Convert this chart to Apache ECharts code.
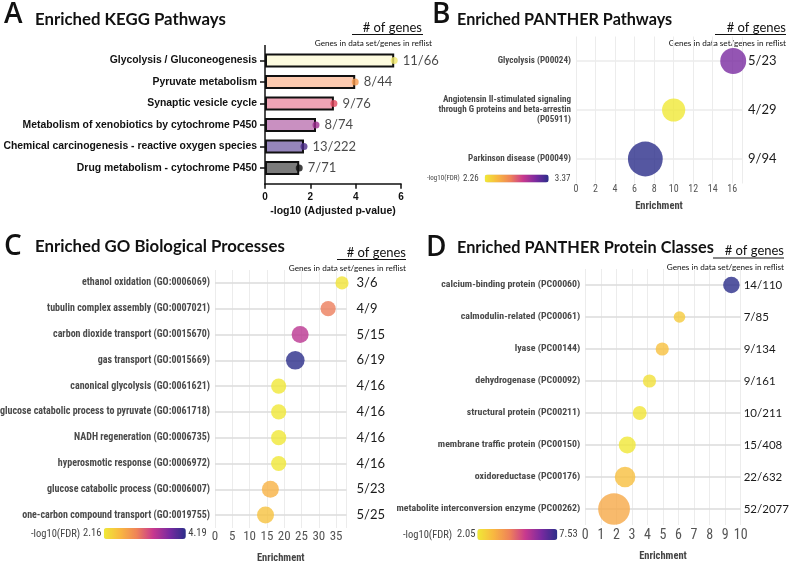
<!DOCTYPE html>
<html><head><meta charset="utf-8">
<script src="https://cdn.jsdelivr.net/npm/echarts@6/dist/echarts.min.js"></script>
<style>html,body{margin:0;padding:0;background:#fff}#c{width:789px;height:566px}</style>
</head><body><div id="c"></div>
<script>
// ---------- Panel A: KEGG ----------
const keggTerms = ['Glycolysis / Gluconeogenesis', 'Pyruvate metabolism', 'Synaptic vesicle cycle',
  'Metabolism of xenobiotics by cytochrome P450', 'Chemical carcinogenesis - reactive oxygen species',
  'Drug metabolism - cytochrome P450'];
const keggLogP = [5.7, 3.98, 3.04, 2.25, 1.72, 1.51];
const keggGenes = ['11/66', '8/44', '9/76', '8/74', '13/222', '7/71'];

// ---------- Panel B: PANTHER pathways ----------
const pwTerms = ['Glycolysis (P00024)',
  'Angiotensin II-stimulated signaling\nthrough G proteins and beta-arrestin\n(P05911)',
  'Parkinson disease (P00049)'];
const pwEnrich = [16.1, 10.0, 7.1];
const pwFDR = [3.15, 2.26, 3.37];
const pwGenes = ['5/23', '4/29', '9/94'];
const pwFdrRange = [2.26, 3.37];

// ---------- Panel C: GO biological processes ----------
const goTerms = ['ethanol oxidation (GO:0006069)', 'tubulin complex assembly (GO:0007021)',
  'carbon dioxide transport (GO:0015670)', 'gas transport (GO:0015669)',
  'canonical glycolysis (GO:0061621)', 'glucose catabolic process to pyruvate (GO:0061718)',
  'NADH regeneration (GO:0006735)', 'hyperosmotic response (GO:0006972)',
  'glucose catabolic process (GO:0006007)', 'one-carbon compound transport (GO:0019755)'];
const goEnrich = [36.7, 32.7, 24.6, 23.2, 18.4, 18.4, 18.4, 18.4, 16.0, 14.6];
const goFDR = [2.2, 3.0, 3.45, 4.19, 2.18, 2.18, 2.18, 2.18, 2.62, 2.48];
const goGenes = ['3/6', '4/9', '5/15', '6/19', '4/16', '4/16', '4/16', '4/16', '5/23', '5/25'];
const goFdrRange = [2.16, 4.19];

// ---------- Panel D: PANTHER protein classes ----------
const pcTerms = ['calcium-binding protein (PC00060)', 'calmodulin-related (PC00061)', 'lyase (PC00144)',
  'dehydrogenase (PC00092)', 'structural protein (PC00211)', 'membrane traffic protein (PC00150)',
  'oxidoreductase (PC00176)', 'metabolite interconversion enzyme (PC00262)'];
const pcEnrich = [9.4, 6.06, 4.95, 4.13, 3.5, 2.7, 2.56, 1.85];
const pcFDR = [7.53, 2.75, 2.95, 2.25, 2.15, 2.1, 3.0, 3.45];
const pcGenes = ['14/110', '7/85', '9/134', '9/161', '10/211', '15/408', '22/632', '52/2077'];
const pcFdrRange = [2.05, 7.53];

// ---------- styles ----------
const keggBarColors = ['#fdfbdf', '#fccab0', '#f0a4b6', '#c990c1', '#9585bb', '#7b7b7b'];
const keggDotColors = ['#f1e86a', '#f99a4c', '#e4475f', '#9c2a8e', '#4b2b89', '#111111'];
const plasma = ['#f0e936', '#f8b840', '#ef8358', '#c8398e', '#7a2aa0', '#2b2d89'];
const NARROW = "'Liberation Sans Narrow', 'Roboto Condensed', Roboto, sans-serif";
const MYR = "Lato, 'Open Sans', sans-serif";
const ARIAL = "'Liberation Sans', Arial, sans-serif";

const G = {
  A: {left: 265, top: 49.75, width: 136, height: 129},
  B: {left: 576, top: 36.5, width: 166, height: 147},
  C: {left: 215, top: 270, width: 131.5, height: 258},
  D: {left: 585.3, top: 269, width: 155.4, height: 256}
};
const numer = s => +s.split('/')[0];

const chart = echarts.init(document.getElementById('c'), null, {renderer: 'canvas'});

function bubbleAxes(gi, g, terms, genes, xMax, xInt, tickFont, labelFont, termLH, countMargin, lineColor, nameGap, tickMargin, countFont, countPad) {
  const y = [
    {type: 'category', gridIndex: gi, data: terms, inverse: true,
      axisLine: {show: false},
      axisTick: {show: true, inside: true, alignWithLabel: true, length: g.width,
        lineStyle: {color: lineColor, width: 1.5}},
      axisLabel: {fontFamily: NARROW, fontWeight: 'bold', fontSize: labelFont, color: '#4a4a4a',
        margin: 5, lineHeight: termLH, align: 'right'}},
    {type: 'category', gridIndex: gi, data: genes, inverse: true, position: 'right',
      axisLine: {show: false}, axisTick: {show: false},
      axisLabel: {fontFamily: MYR, fontSize: countFont, color: '#1a1a1a', margin: countMargin, align: 'left',
        padding: countPad || 0}}
  ];
  const x = {type: 'value', gridIndex: gi, min: 0, max: xMax, interval: xInt,
    axisLine: {show: false}, axisTick: {show: false},
    splitLine: {show: true, lineStyle: {color: '#ececec', width: 1}},
    axisLabel: {fontFamily: NARROW, fontSize: tickFont, color: '#555', margin: tickMargin, showMaxLabel: xMax % xInt === 0},
    name: 'Enrichment', nameLocation: 'middle', nameGap: nameGap,
    nameTextStyle: {fontFamily: NARROW, fontWeight: 'bold', fontSize: 10.5, color: '#444'}};
  return {x, y};
}

const axB = bubbleAxes(1, G.B, pwTerms, pwGenes, 17, 2, 10, 9.1, 10.2, 6, '#ececec', 17, 1, 13, 0);
const axC = bubbleAxes(2, G.C, goTerms, goGenes, 38, 5, 13, 10, 11, 10, '#dcdcdc', 25, 2, 13, 0);
const axD = bubbleAxes(3, G.D, pcTerms, pcGenes, 10, 1, 14, 9.9, 11, 3, '#dcdcdc', 26, 3, 11.5, [0, 0, 5, 0]);

const bubbleData = (enr, fdr, genes) => enr.map((v, i) => [v, i, fdr[i], numer(genes[i])]);

function vm(idx, range, left, top, len, thick, fs, gap) {
  return {type: 'continuous', seriesIndex: idx, dimension: 2, min: range[0], max: range[1],
    orient: 'horizontal', left: left, top: top, itemWidth: thick, itemHeight: len, padding: 0,
    text: [range[1].toFixed(2), range[0].toFixed(2)], textGap: gap, calculable: false, realtime: false,
    hoverLink: false,
    inRange: {color: plasma},
    textStyle: {fontFamily: NARROW, fontSize: fs, color: '#444'}};
}

function txt(x, y, s, font, align, extra) {
  return Object.assign({type: 'text', x: x, y: y, silent: true,
    style: Object.assign({text: s, font: font, textAlign: align || 'left', textVerticalAlign: 'middle', fill: '#111'}, extra || {})});
}
function hline(x1, x2, y, w) {
  return {type: 'line', silent: true, shape: {x1: x1, y1: y, x2: x2, y2: y}, style: {stroke: '#111', lineWidth: w || 1}};
}

const LETTER = "600 28px 'Open Sans', sans-serif";
const TITLE = "bold 16.8px Lato, 'Open Sans', sans-serif";
const TITLE_B = "bold 16.2px Lato, 'Open Sans', sans-serif";
const TITLE_D = "bold 16.3px Lato, 'Open Sans', sans-serif";
const NOG = "13px Lato, 'Open Sans', sans-serif";
const GIN = "8.2px Lato, 'Open Sans', sans-serif";

const graphics = [
  txt(4, 15, 'A', LETTER), txt(35, 20, 'Enriched KEGG Pathways', TITLE),
  txt(422, 28, '# of genes', NOG, 'right'), hline(352, 423, 34.5),
  txt(432, 43, 'Genes in data set/genes in reflist', GIN, 'right'),
  txt(432, 15, 'B', LETTER), txt(457, 20, 'Enriched PANTHER Pathways', TITLE_B),
  txt(786, 28, '# of genes', NOG, 'right'), hline(715, 786, 34.5),
  txt(786, 43, 'Genes in data set/genes in reflist', GIN, 'right'),
  txt(4, 247, 'C', LETTER), txt(35, 247, 'Enriched GO Biological Processes', TITLE),
  txt(406, 253, '# of genes', NOG, 'right'), hline(337, 406, 259.5),
  txt(406, 268, 'Genes in data set/genes in reflist', GIN, 'right'),
  txt(426, 248, 'D', LETTER), txt(457, 248, 'Enriched PANTHER Protein Classes', TITLE_D),
  txt(784, 251, '# of genes', NOG, 'right'), hline(713, 784, 258),
  txt(784, 267, 'Genes in data set/genes in reflist', GIN, 'right'),
  txt(427, 178.5, '-log10(FDR)', "7px " + NARROW, 'left', {fill: '#444'}),
  txt(31, 534, '-log10(FDR)', "10.5px " + NARROW, 'left', {fill: '#444'}),
  txt(403, 535, '-log10(FDR)', "10.5px " + NARROW, 'left', {fill: '#444'}),
  // y axis line of panel A (Prism-style axis with padding)
  {type: 'line', silent: true, shape: {x1: G.A.left, y1: 45, x2: G.A.left, y2: G.A.top + G.A.height + 6},
    style: {stroke: '#111', lineWidth: 1.5}}
];

const option = {
  backgroundColor: '#fff',
  animation: false,
  grid: [G.A, G.B, G.C, G.D].map(g => Object.assign({containLabel: false, outerBoundsMode: 'none'}, g)),
  xAxis: [
    {type: 'value', gridIndex: 0, min: 0, max: 6, interval: 2, offset: 5,
      axisLine: {show: true, lineStyle: {color: '#111', width: 1.5}},
      axisTick: {show: true, length: 5, lineStyle: {color: '#111', width: 1.5}},
      splitLine: {show: false},
      axisLabel: {fontFamily: ARIAL, fontWeight: 'bold', fontSize: 10, color: '#111', margin: 8},
      name: '-log10 (Adjusted p-value)', nameLocation: 'middle', nameGap: 22,
      nameTextStyle: {fontFamily: ARIAL, fontWeight: 'bold', fontSize: 10.5, color: '#111'}},
    axB.x, axC.x, axD.x
  ],
  yAxis: [
    {type: 'category', gridIndex: 0, data: keggTerms, inverse: true,
      axisLine: {show: false},
      axisTick: {show: true, alignWithLabel: true, length: 5, lineStyle: {color: '#111', width: 1.5}},
      axisLabel: {fontFamily: ARIAL, fontWeight: 'bold', fontSize: 10.4, color: '#111', margin: 8}},
    axB.y[0], axB.y[1], axC.y[0], axC.y[1], axD.y[0], axD.y[1]
  ],
  visualMap: [
    vm(2, pwFdrRange, 463, 174, 64, 8, 9, 6),
    vm(3, goFdrRange, 83, 528, 82, 11, 10.5, 2.5),
    vm(4, pcFdrRange, 457, 529, 80, 11, 10.5, 2)
  ],
  series: [
    {type: 'bar', xAxisIndex: 0, yAxisIndex: 0, barWidth: 14,
      data: keggLogP.map((v, i) => ({value: v, itemStyle: {color: keggBarColors[i]}})),
      itemStyle: {borderColor: '#111', borderWidth: 2}},
    {type: 'scatter', xAxisIndex: 0, yAxisIndex: 0, symbolSize: 7, z: 5,
      data: keggLogP.map((v, i) => ({value: [v, i], itemStyle: {color: keggDotColors[i]}})),
      label: {show: true, position: 'right', distance: 5, formatter: p => keggGenes[p.dataIndex],
        fontFamily: MYR, fontSize: 13, color: '#1a1a1a'}},
    {type: 'scatter', xAxisIndex: 1, yAxisIndex: 1, data: bubbleData(pwEnrich, pwFDR, pwGenes),
      symbolSize: d => 11.6 * Math.sqrt(d[3])},
    {type: 'scatter', xAxisIndex: 2, yAxisIndex: 3, data: bubbleData(goEnrich, goFDR, goGenes),
      symbolSize: d => 7.6 * Math.sqrt(d[3])},
    {type: 'scatter', xAxisIndex: 3, yAxisIndex: 5, data: bubbleData(pcEnrich, pcFDR, pcGenes),
      symbolSize: d => 4.4 * Math.sqrt(d[3])}
  ],
  graphic: graphics
};
chart.setOption(option);
</script></body></html>
